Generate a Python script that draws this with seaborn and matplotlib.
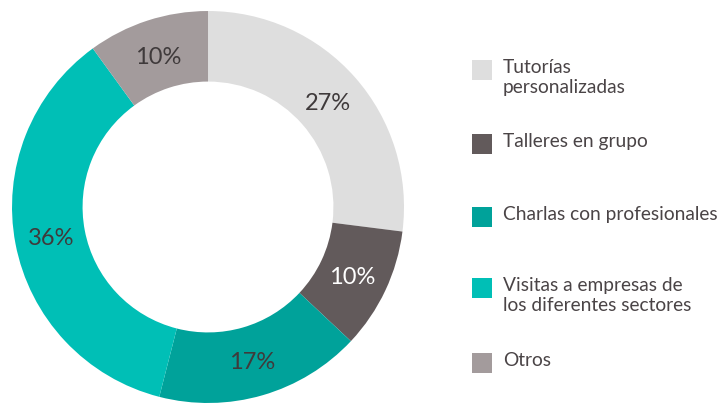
import matplotlib
matplotlib.use("Agg")
import matplotlib.pyplot as plt
import seaborn as sns
from matplotlib.patches import Rectangle

sns.set_theme(style="white")
plt.rcParams['font.family'] = ['Lato', 'DejaVu Sans']

# data
categories = ["Tutorías\npersonalizadas", "Talleres en grupo", "Charlas con profesionales",
              "Visitas a empresas de\nlos diferentes sectores", "Otros"]
shares = [27, 10, 17, 36, 10]
colors = ["#dedede", "#625a5b", "#00a29a", "#00bfb6", "#a39b9c"]
label_colors = ["#3f3a3b", "#ffffff", "#3f3a3b", "#3f3a3b", "#3f3a3b"]

fig = plt.figure(figsize=(7.24, 4.03), dpi=100)
ax = fig.add_axes([0.0166, 0.0, 0.5414, 0.9727])

wedges, texts = ax.pie(shares, colors=colors, startangle=90, counterclock=False,
                       radius=1.0, wedgeprops=dict(width=0.36, linewidth=0),
                       labels=[f"{v}%" for v in shares], labeldistance=0.815)
for t, c in zip(texts, label_colors):
    t.set_ha("center")
    t.set_va("center_baseline")
    t.set_color(c)
    t.set_fontsize(17)
ax.set_xlim(-1, 1)
ax.set_ylim(-1, 1)
ax.set_aspect("equal")
ax.axis("off")

# legend drawn by hand to keep the uneven spacing
leg_y = [70, 144, 217, 288, 363]  # square centre in px from top
for cat, col, y in zip(categories, colors, leg_y):
    fy = 1 - y / 403
    fig.patches.append(Rectangle((472 / 724, fy - 10 / 403), 20 / 724, 20 / 403,
                                 transform=fig.transFigure, facecolor=col, edgecolor="none"))
    fig.text(503 / 724, fy + 11 / 403, cat, ha="left", va="top", fontsize=13.8,
             color="#4a4446", linespacing=1.2)

fig.savefig("out.png", dpi=100)
